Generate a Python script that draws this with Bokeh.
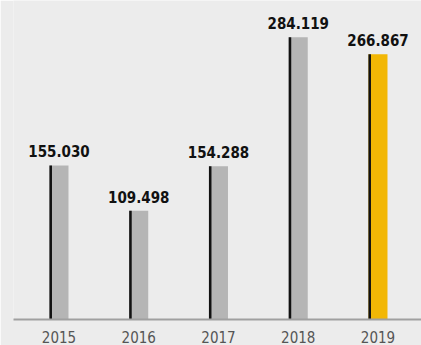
from bokeh.plotting import figure
from bokeh.models import ColumnDataSource, Range1d, FixedTicker
from bokeh.transform import dodge
from bokeh.core.properties import value
from bokeh.embed import file_html
from bokeh.resources import INLINE
import numpy as np

years = ["2015", "2016", "2017", "2018", "2019"]
values = [155030, 109498, 154288, 284119, 266867]
bar_colors = ["#b5b5b5", "#b5b5b5", "#b5b5b5", "#b5b5b5", "#f2b705"]

BG = "#ececec"
FONT = "DejaVu Sans Condensed"

x = np.arange(len(years))
labels = [f"{v:,}".replace(",", ".") for v in values]
src = ColumnDataSource(dict(x=x, v=values, c=bar_colors, lab=labels))

p = figure(width=421, height=345, output_backend="svg", toolbar_location=None,
           x_range=Range1d(-0.5705, 4.5455), y_range=Range1d(0, 321087),
           background_fill_color=BG, border_fill_color=BG,
           min_border_left=13, min_border_right=0, min_border_top=0,
           min_border_bottom=26, outline_line_color=None)

p.vbar(x=dodge("x", 0.0, range=p.x_range), top="v", width=0.238, bottom=0,
       fill_color="c", line_color=None, source=src)
p.vbar(x=dodge("x", -0.104, range=p.x_range), top="v", width=0.032, bottom=0,
       fill_color="#111111", line_color=None, source=src)

p.text(x="x", y="v", text="lab", source=src, y_offset=-14,
       text_align="center", text_baseline="alphabetic",
       text_font=value(FONT), text_font_style="bold", text_font_size="15px",
       text_color="#111111")

p.yaxis.visible = False
p.grid.visible = False
p.xaxis.ticker = FixedTicker(ticks=list(x))
p.xaxis.major_label_overrides = {int(i): y for i, y in zip(x, years)}
p.xaxis.axis_line_color = "#a0a0a0"
p.xaxis.axis_line_width = 2
p.xaxis.major_tick_line_color = None
p.xaxis.minor_tick_line_color = None
p.xaxis.major_tick_in = 0
p.xaxis.major_tick_out = 0
p.xaxis.major_label_standoff = 11
p.xaxis.major_label_text_font = FONT
p.xaxis.major_label_text_font_size = "15px"
p.xaxis.major_label_text_color = "#555555"

open("out.html", "w").write(file_html(p, INLINE))
